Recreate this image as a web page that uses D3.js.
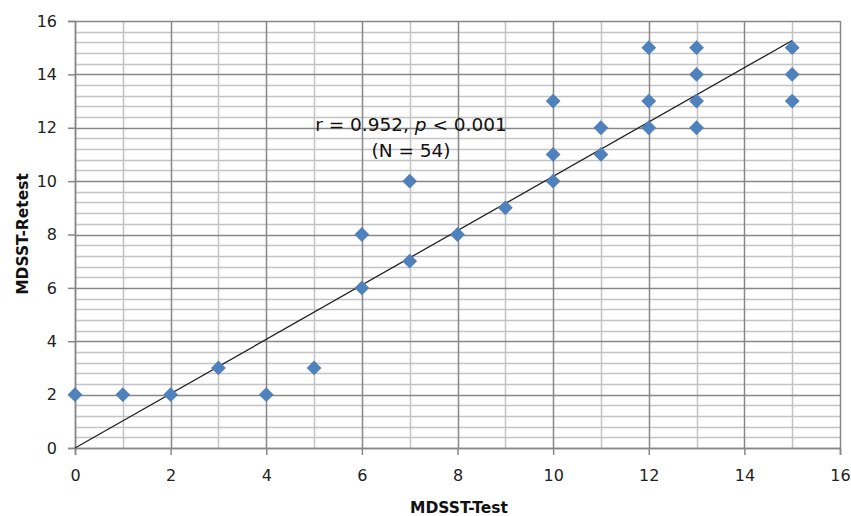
<!DOCTYPE html>
<html>
<head>
<meta charset="utf-8">
<script src="https://cdn.jsdelivr.net/npm/d3@7"></script>
<style>
  body { margin: 0; background: #fff; }
  text { font-family: "DejaVu Sans", "Liberation Sans", sans-serif; }
</style>
</head>
<body>
<svg width="851" height="516"></svg>
<script>
// test scores vs retest scores (overlapping points drawn once each)
var testScores   = [0, 1, 2, 3, 4, 5, 6, 6, 7, 7, 8, 9, 10, 10, 10, 11, 11, 12, 12, 12, 13, 13, 13, 13, 15, 15, 15];
var retestScores = [2, 2, 2, 3, 2, 3, 6, 8, 7, 10, 8, 9, 10, 11, 13, 11, 12, 12, 13, 15, 12, 13, 14, 15, 13, 14, 15];
// linear trendline as drawn
var trendX = [0, 15];
var trendY = [0, 15.27];
var xTicks = [0, 2, 4, 6, 8, 10, 12, 14, 16];
var yTicks = [0, 2, 4, 6, 8, 10, 12, 14, 16];

var svg = d3.select("svg");
var plotLeft = 75, plotRight = 840, plotTop = 21, plotBottom = 448;

var x = d3.scaleLinear().domain([0, 16]).range([plotLeft, plotRight]);
var y = d3.scaleLinear().domain([0, 16]).range([plotBottom, plotTop]);

function px(v) { return Math.round(v) + 0.5; }

var grid = svg.append("g");

// minor horizontal lines every 0.4
var hMinor = d3.range(0, 41).map(function(i) { return i * 0.4; })
  .filter(function(v) { return Math.round(v * 10) % 20 != 0; });
grid.selectAll(".hmin")
  .data(hMinor)
  .enter().append("line")
  .attr("x1", plotLeft).attr("x2", plotRight)
  .attr("y1", function(d) { return px(y(d)); })
  .attr("y2", function(d) { return px(y(d)); })
  .attr("stroke", "#c3c3c3").attr("stroke-width", 1.5);

// minor vertical lines at odd values
grid.selectAll(".vmin")
  .data([1, 3, 5, 7, 9, 11, 13, 15])
  .enter().append("line")
  .attr("y1", plotTop).attr("y2", plotBottom)
  .attr("x1", function(d) { return px(x(d)); })
  .attr("x2", function(d) { return px(x(d)); })
  .attr("stroke", "#c3c3c3").attr("stroke-width", 1.5);

// major grid
grid.selectAll(".hmaj")
  .data(yTicks)
  .enter().append("line")
  .attr("x1", plotLeft).attr("x2", plotRight)
  .attr("y1", function(d) { return px(y(d)); })
  .attr("y2", function(d) { return px(y(d)); })
  .attr("stroke", "#878787").attr("stroke-width", 1.5);

grid.selectAll(".vmaj")
  .data(xTicks)
  .enter().append("line")
  .attr("y1", plotTop).attr("y2", plotBottom)
  .attr("x1", function(d) { return px(x(d)); })
  .attr("x2", function(d) { return px(x(d)); })
  .attr("stroke", "#878787").attr("stroke-width", 1.5);

// axes
var xAxis = svg.append("g")
  .attr("transform", "translate(0," + plotBottom + ")")
  .call(d3.axisBottom(x).tickValues(xTicks).tickSize(7).tickPadding(15));
var yAxis = svg.append("g")
  .attr("transform", "translate(" + plotLeft + ",0)")
  .call(d3.axisLeft(y).tickValues(yTicks).tickSize(7).tickPadding(11));

[xAxis, yAxis].forEach(function(a) {
  a.attr("font-size", null).attr("font-family", null);
  a.select(".domain").attr("stroke", "#878787").attr("stroke-width", 1.5);
  a.selectAll(".tick line").attr("stroke", "#878787").attr("stroke-width", 1.5);
  a.selectAll(".tick text").attr("fill", "#222").style("font-size", "16px");
});

// trendline
svg.append("line")
  .attr("x1", x(trendX[0])).attr("y1", y(trendY[0]))
  .attr("x2", x(trendX[1])).attr("y2", y(trendY[1]))
  .attr("stroke", "#222").attr("stroke-width", 1.3);

// points
var diamond = d3.symbol().type(d3.symbolDiamond2).size(140);
svg.selectAll(".pt")
  .data(testScores)
  .enter().append("path")
  .attr("d", diamond)
  .attr("transform", function(d, i) { return "translate(" + x(d) + "," + y(retestScores[i]) + ")"; })
  .attr("fill", "#4f81bd");

// annotation
var ann = svg.append("text")
  .attr("x", 411).attr("y", 131)
  .attr("text-anchor", "middle")
  .style("font-size", "18.5px").attr("fill", "#111");
ann.append("tspan").text("r = 0.952,  ");
ann.append("tspan").style("font-style", "italic").text("p");
ann.append("tspan").text(" < 0.001");

svg.append("text")
  .attr("x", 411).attr("y", 157)
  .attr("text-anchor", "middle")
  .style("font-size", "18.5px").attr("fill", "#111")
  .text("(N = 54)");

// axis titles
svg.append("text")
  .attr("x", 459).attr("y", 513)
  .attr("text-anchor", "middle")
  .style("font-size", "15.5px").style("font-weight", "bold").attr("fill", "#111")
  .text("MDSST-Test");

svg.append("text")
  .attr("transform", "translate(28,234) rotate(-90)")
  .attr("text-anchor", "middle")
  .style("font-size", "15.5px").style("font-weight", "bold").attr("fill", "#111")
  .text("MDSST-Retest");
</script>
</body>
</html>
